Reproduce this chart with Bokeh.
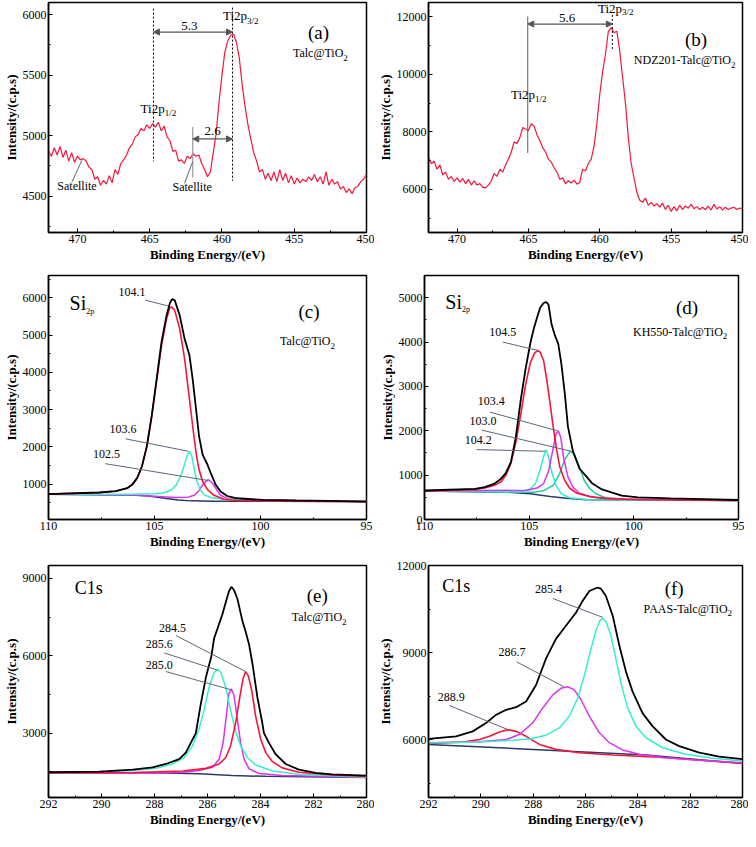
import numpy as np
from bokeh.plotting import figure
from bokeh.layouts import column, row
from bokeh.models import Range1d, SingleIntervalTicker, Arrow, NormalHead
from bokeh.core.properties import value
from bokeh.embed import file_html
from bokeh.resources import INLINE

FONT = "Liberation Serif"
AXFONT = "'Liberation Serif', serif"
RED = "#F5163C"
CYAN = "#35F0CC"
TEAL = "#1ECBA5"
MAG = "#DD33EE"
NAVY = "#2A3A6A"
LEADER = "#5A6878"
ARROWC = "#555555"

# ---------------- (a) Ti2p, Talc@TiO2 ----------------
a_energy = np.round(472.0 - 0.2 * np.arange(111), 1)
a_counts = [4870, 4830, 4900, 4840, 4910, 4820, 4880, 4790, 4860, 4780,
            4830, 4800, 4810, 4790, 4740, 4720, 4640, 4660, 4590, 4630,
            4600, 4670, 4610, 4720, 4680, 4770, 4800, 4840, 4900, 4930,
            4990, 5010, 5060, 5040, 5090, 5060, 5100, 5070, 5110, 5040,
            5080, 4990, 4960, 4870, 4880, 4790, 4800, 4770, 4830, 4810,
            4850, 4830, 4840, 4770, 4720, 4660, 4700, 4860, 5020, 5280,
            5500, 5690, 5780, 5830, 5840, 5770, 5640, 5420, 5240, 5090,
            4970, 4860, 4790, 4700, 4720, 4640, 4690, 4630, 4700, 4620,
            4720, 4630, 4690, 4610, 4670, 4600, 4650, 4610, 4640, 4620,
            4660, 4630, 4680, 4620, 4660, 4600, 4700, 4590, 4640, 4600,
            4620, 4560, 4580, 4530, 4560, 4520, 4570, 4580, 4620, 4640,
            4680]

# ---------------- (b) Ti2p, NDZ201-Talc@TiO2 ----------------
b_energy = np.round(472.0 - 0.2 * np.arange(111), 1)
b_counts = [7120, 6900, 6980, 6700, 6850, 6500, 6600, 6350, 6450, 6280,
            6400, 6250, 6380, 6200, 6350, 6150, 6300, 6150, 6200, 6080,
            6050, 6150, 6300, 6550, 6450, 6700, 6600, 6850, 7050, 7300,
            7650, 7600, 7800, 8150, 8100, 8050, 8280, 8200, 7900, 7700,
            7450, 7300, 7050, 6950, 6750, 6600, 6350, 6400, 6200, 6300,
            6220, 6320, 6180, 6250, 6700, 6650, 6900, 7050, 7500, 8300,
            9300, 10100, 10700, 11500, 11620, 11450, 11500, 10800, 9900, 9000,
            7800, 6900, 6400, 5900, 5620, 5550, 5700, 5450, 5550, 5420,
            5500, 5380, 5520, 5300, 5450, 5230, 5400, 5250, 5450, 5300,
            5420, 5350, 5480, 5330, 5400, 5300, 5380, 5300, 5420, 5280,
            5480, 5320, 5400, 5280, 5380, 5300, 5350, 5380, 5300, 5350,
            5310]

# ---------------- (c) Si2p, Talc@TiO2 ----------------
c_env_x = [110.0, 107.6, 106.83, 106.29, 106.06, 105.82, 105.59, 105.36, 105.13, 104.90,
           104.67, 104.43, 104.28, 104.17, 104.05, 103.81, 103.58, 103.35, 103.20, 103.04,
           102.90, 102.73, 102.50, 102.35, 102.11, 101.88, 101.57, 101.11, 99.87, 98.33,
           96.78, 95.0]
c_env_y = [730, 775, 810, 890, 980, 1160, 1480, 2020, 2830, 3820,
           4810, 5530, 5850, 5965, 5940, 5530, 4900, 4450, 3820, 3010,
           2290, 1790, 1520, 1300, 980, 800, 680, 620, 575, 560,
           550, 530]
c_p1041_x = [110.0, 107.6, 106.83, 106.29, 106.06, 105.82, 105.59, 105.36, 105.13, 104.90,
             104.67, 104.43, 104.28, 104.20, 104.05, 103.81, 103.58, 103.35, 103.20, 103.04,
             102.90, 102.73, 102.50, 102.19, 101.73, 101.11, 99.87, 95.0]
c_p1041_y = [730, 775, 810, 890, 980, 1160, 1480, 2020, 2830, 3775,
             4720, 5440, 5730, 5757, 5670, 5170, 4360, 3280, 2560, 1840,
             1390, 1070, 850, 700, 595, 560, 550, 530]
c_p1036_x = [110.0, 106.06, 104.97, 104.51, 104.20, 103.97, 103.77, 103.61, 103.47, 103.35,
             103.24, 103.12, 103.00, 102.84, 102.65, 102.35, 101.73, 99.87, 95.0]
c_p1036_y = [730, 730, 740, 775, 850, 980, 1210, 1480, 1750, 1880,
             1750, 1390, 1070, 850, 710, 640, 595, 560, 530]
c_p1025_x = [110.0, 106.06, 104.82, 104.05, 103.43, 103.12, 102.90, 102.69, 102.47, 102.27,
             102.07, 101.88, 101.57, 100.95, 95.0]
c_p1025_y = [730, 710, 665, 640, 650, 700, 830, 1010, 1120, 1030,
             850, 700, 610, 575, 530]
c_base_x = [110.0, 106.06, 105.28, 104.51, 103.89, 103.27, 102.19, 95.0]
c_base_y = [730, 710, 680, 620, 575, 550, 540, 530]

# ---------------- (d) Si2p, KH550-Talc@TiO2 ----------------
d_env_x = [110, 107.59, 107.12, 106.65, 106.34, 106.11, 105.87, 105.64, 105.40, 105.17,
           104.94, 104.78, 104.63, 104.47, 104.31, 104.19, 104.08, 103.93, 103.77, 103.61,
           103.46, 103.30, 103.15, 102.91, 102.60, 102.29, 101.98, 101.52, 100.58, 99.80,
           98.24, 96.68, 95.0]
d_env_y = [654, 690, 730, 810, 920, 1050, 1300, 1850, 2700, 3400,
           3985, 4300, 4540, 4780, 4880, 4900, 4850, 4400, 4150, 3960,
           3500, 2850, 2100, 1540, 1150, 985, 810, 677, 540, 500,
           477, 460, 440]
d_p1045_x = [110, 107.59, 107.12, 106.65, 106.34, 106.11, 105.87, 105.64, 105.40, 105.17,
             104.94, 104.75, 104.60, 104.47, 104.31, 104.16, 104.00, 103.85, 103.69, 103.54,
             103.30, 103.07, 102.76, 102.13, 101.36, 99.80, 95.0]
d_p1045_y = [640, 680, 710, 770, 850, 1000, 1270, 1730, 2380, 3040,
             3540, 3745, 3810, 3770, 3580, 3150, 2610, 2080, 1580, 1190,
             880, 710, 600, 520, 477, 445, 430]
d_p1042_x = [110, 105.40, 104.94, 104.70, 104.50, 104.31, 104.19, 104.08, 103.93, 103.72,
             103.46, 103.07, 102.13, 95.0]
d_p1042_y = [640, 630, 690, 810, 1080, 1420, 1580, 1420, 1080, 770,
             580, 490, 445, 430]
d_p1034_x = [110, 105.09, 104.63, 104.31, 104.08, 103.88, 103.72, 103.61, 103.49, 103.35,
             103.15, 102.91, 102.60, 101.98, 101.04, 95.0]
d_p1034_y = [640, 660, 710, 810, 1080, 1540, 1920, 2000, 1850, 1380,
             960, 730, 590, 500, 460, 430]
d_p1030_x = [110, 105.56, 104.78, 104.31, 103.85, 103.54, 103.30, 103.04, 102.83, 102.60,
             102.37, 102.13, 101.82, 101.36, 100.42, 95.0]
d_p1030_y = [640, 615, 615, 650, 770, 1040, 1350, 1540, 1460, 1190,
             880, 710, 580, 490, 455, 430]
d_base_x = [110, 106.11, 104.94, 104.00, 103.22, 102.29, 95.0]
d_base_y = [640, 615, 580, 520, 477, 445, 430]

# ---------------- (e) C1s, Talc@TiO2 ----------------
e_env_x = [292, 290.08, 288.82, 288.07, 287.57, 287.07, 286.82, 286.63, 286.44, 286.25,
           286.06, 285.85, 285.75, 285.62, 285.44, 285.31, 285.19, 285.10, 285.00, 284.87,
           284.69, 284.56, 284.43, 284.30, 284.12, 283.93, 283.87, 283.68, 283.43, 283.05,
           282.55, 281.92, 281.29, 280]
e_env_y = [1480, 1505, 1580, 1670, 1800, 1990, 2240, 2620, 3000, 4140,
           5160, 6000, 6680, 7060, 7600, 8075, 8500, 8670, 8550, 8200,
           7380, 6930, 6430, 5670, 4400, 3380, 3000, 2620, 2180, 1800,
           1580, 1455, 1400, 1350]
e_p2856_x = [292, 290.08, 288.82, 287.95, 287.32, 286.88, 286.57, 286.31, 286.13, 285.94,
             285.75, 285.62, 285.50, 285.31, 285.13, 284.94, 284.75, 284.49, 284.18, 283.55,
             282.55, 281.29, 280]
e_p2856_y = [1455, 1480, 1545, 1630, 1800, 2050, 2500, 3190, 3890, 4780,
             5350, 5475, 5350, 4780, 3890, 3070, 2500, 2050, 1760, 1530,
             1400, 1340, 1290]
e_p2850_x = [292, 288.82, 286.94, 286.31, 285.81, 285.56, 285.41, 285.28, 285.19, 285.10,
             285.00, 284.87, 284.75, 284.62, 284.43, 284.05, 283.18, 280]
e_p2850_y = [1455, 1440, 1480, 1545, 1670, 1990, 2620, 3760, 4530, 4715,
             4460, 3510, 2620, 1990, 1610, 1430, 1350, 1290]
e_p2845_x = [292, 288.82, 286.94, 286.06, 285.56, 285.31, 285.13, 284.94, 284.78, 284.66,
             284.56, 284.46, 284.33, 284.18, 283.99, 283.80, 283.55, 283.18, 282.55, 281.29,
             280]
e_p2845_y = [1455, 1470, 1530, 1630, 1800, 2050, 2500, 3380, 4400, 5100,
             5385, 5220, 4650, 3640, 2750, 2240, 1890, 1650, 1480, 1370,
             1320]
e_base_x = [292, 287.57, 286.31, 285.06, 283.80, 280]
e_base_y = [1480, 1455, 1420, 1350, 1320, 1280]

# ---------------- (f) C1s, PAAS-Talc@TiO2 ----------------
f_env_x = [292, 290.94, 290.31, 289.80, 289.42, 289.03, 288.65, 288.27, 287.89, 287.51,
           287.13, 286.74, 286.36, 286.11, 285.85, 285.54, 285.41, 285.22, 284.96, 284.71,
           284.45, 284.20, 283.82, 283.44, 282.93, 282.42, 281.65, 280.89, 280.0]
f_env_y = [6020, 6110, 6280, 6570, 6850, 7025, 7115, 7310, 7880, 8790,
           9470, 9930, 10380, 10780, 11120, 11240, 11200, 10950, 10270, 9250,
           8330, 7650, 6910, 6460, 6000, 5770, 5545, 5410, 5320]
f_p2854_x = [292, 290.05, 288.78, 288.14, 287.51, 287.00, 286.62, 286.30, 286.04, 285.79,
             285.60, 285.45, 285.34, 285.22, 285.03, 284.84, 284.64, 284.39, 284.07, 283.69,
             283.05, 282.16, 281.14, 280.0]
f_p2854_y = [5890, 5910, 5970, 6020, 6150, 6400, 6800, 7420, 8220, 9130,
             9760, 10100, 10180, 10065, 9590, 8790, 7935, 7080, 6460, 6060,
             5715, 5490, 5350, 5260]
f_p2867_x = [292, 290.05, 289.03, 288.53, 288.02, 287.64, 287.25, 286.94, 286.68, 286.43,
             286.17, 285.85, 285.47, 285.09, 284.58, 283.94, 283.05, 281.78, 280.0]
f_p2867_y = [5890, 5920, 6000, 6170, 6570, 7080, 7540, 7765, 7820, 7710,
             7370, 6800, 6230, 5890, 5640, 5490, 5380, 5290, 5200]
f_p2889_x = [292, 290.69, 290.05, 289.67, 289.29, 288.97, 288.65, 288.27, 287.76, 287.13,
             286.24, 284.96, 283.05, 280.0]
f_p2889_y = [5865, 5910, 6000, 6110, 6260, 6340, 6280, 6110, 5830, 5660,
             5545, 5465, 5380, 5180]
f_base_x = [292, 288.78, 286.24, 283.69, 280.0]
f_base_y = [5830, 5690, 5580, 5465, 5170]

X_LABEL = "Binding Energy/(eV)"
Y_LABEL = "Intensity/(c.p.s)"


def make_fig(xr, yr, xint, yint, left, fw, right, top, fh, bottom):
    p = figure(frame_width=fw, frame_height=fh,
               x_range=Range1d(*xr), y_range=Range1d(*yr),
               output_backend="svg", toolbar_location=None,
               min_border_left=left, min_border_right=right,
               min_border_top=top, min_border_bottom=bottom,
               background_fill_color="white", border_fill_color="white")
    p.xgrid.visible = False
    p.ygrid.visible = False
    p.outline_line_color = "black"
    p.outline_line_width = 1.5
    p.xaxis.ticker = SingleIntervalTicker(interval=xint, num_minor_ticks=2)
    p.yaxis.ticker = SingleIntervalTicker(interval=yint, num_minor_ticks=2)
    p.xaxis.axis_label = X_LABEL
    p.yaxis.axis_label = Y_LABEL
    for ax in (p.xaxis[0], p.yaxis[0]):
        ax.axis_line_color = "black"
        ax.axis_line_width = 1.5
        ax.major_tick_in = 4
        ax.major_tick_out = 0
        ax.minor_tick_in = 2
        ax.minor_tick_out = 0
        ax.major_tick_line_color = "black"
        ax.minor_tick_line_color = "black"
        ax.major_label_text_font = AXFONT
        ax.major_label_text_font_size = "12px"
        ax.major_label_text_color = "black"
        ax.major_label_standoff = 2
        ax.axis_label_text_font = AXFONT
        ax.axis_label_text_font_size = "13px"
        ax.axis_label_text_font_style = "bold"
        ax.axis_label_text_color = "black"
        ax.axis_label_standoff = 1
    return p


def txt(p, x, y, s, size, align="center"):
    p.text(x=[x], y=[y], text=[s], text_align=align, text_baseline="middle",
           text_font=value(FONT), text_font_size=f"{size}px", text_color="black")


def subtxt(p, x, y, ysub, main, sub, size, subsize):
    txt(p, x, y, main, size, align="right")
    txt(p, x, ysub, sub, subsize, align="left")


def leader(p, x0, y0, x1, y1):
    p.segment(x0=[x0], y0=[y0], x1=[x1], y1=[y1], line_color=LEADER, line_width=1)


def darrow(p, x0, x1, y):
    p.add_layout(Arrow(start=NormalHead(size=6, fill_color=ARROWC, line_color=ARROWC),
                       end=NormalHead(size=6, fill_color=ARROWC, line_color=ARROWC),
                       x_start=x0, y_start=y, x_end=x1, y_end=y,
                       line_color=ARROWC, line_width=1.2))


L = dict(left=44, fw=318, right=8)
R = dict(left=50, fw=314, right=6)
R1 = dict(top=2, fh=230, bottom=35)
R2 = dict(top=8, fh=244, bottom=34)
R3 = dict(top=12, fh=232, bottom=32)
NUM = 12   # size of peak position labels

# (a)
pa = make_fig((472, 450), (4200, 6100), 5, 500, **L, **R1)
pa.line(a_energy, a_counts, line_color=RED, line_width=1.2)
pa.segment(x0=[464.74, 459.27], y0=[6050, 6058], x1=[464.74, 459.27], y1=[4787, 4627],
           line_color="black", line_width=1, line_dash="2 2")
pa.segment(x0=[462.02], y0=[5072], x1=[462.02], y1=[4654], line_color="#999999", line_width=1.2)
darrow(pa, 464.74, 459.27, 5856)
darrow(pa, 462.02, 459.27, 4973)
txt(pa, 462.25, 5904, "5.3", 13)
txt(pa, 460.64, 5040, "2.6", 13)
subtxt(pa, 458.26, 5990, 5950, "Ti2p", "3/2", 13, 9)
subtxt(pa, 463.96, 5226, 5186, "Ti2p", "1/2", 13, 9)
leader(pa, 469.69, 4795, 470.37, 4620)
leader(pa, 462.02, 4787, 462.59, 4606)
txt(pa, 470.03, 4588, "Satellite", 12)
txt(pa, 462.06, 4580, "Satellite", 12)
txt(pa, 453.32, 5851, "(a)", 19)
subtxt(pa, 451.6, 5683, 5644, "Talc@TiO", "2", 12, 9)

# (b)
pb = make_fig((472, 450), (4500, 12500), 5, 2000, **R, **R1)
pb.line(b_energy, b_counts, line_color=RED, line_width=1.2)
pb.segment(x0=[465.05], y0=[12011], x1=[465.05], y1=[7265], line_color="#777777", line_width=1.2)
pb.segment(x0=[459.12], y0=[12068], x1=[459.12], y1=[10880], line_color="black", line_width=1,
           line_dash="2 2")
darrow(pb, 465.05, 459.12, 11751)
txt(pb, 462.28, 11955, "5.6", 13)
subtxt(pb, 458.44, 12300, 12165, "Ti2p", "3/2", 13, 9)
subtxt(pb, 464.53, 9300, 9130, "Ti2p", "1/2", 13, 9)
txt(pb, 453.26, 11220, "(b)", 19)
subtxt(pb, 450.81, 10486, 10340, "NDZ201-Talc@TiO", "2", 12, 9)

# (c)
pc = make_fig((110, 95), (50, 6600), 5, 1000, **L, **R2)
pc.line(c_base_x, c_base_y, line_color=NAVY, line_width=1.5)
pc.line(c_p1025_x, c_p1025_y, line_color=MAG, line_width=1.5)
pc.line(c_p1036_x, c_p1036_y, line_color=CYAN, line_width=1.5)
pc.line(c_p1041_x, c_p1041_y, line_color=RED, line_width=1.6)
pc.line(c_env_x, c_env_y, line_color="black", line_width=1.8)
subtxt(pc, 108.22, 5850, 5640, "Si", "2p", 20, 8)
txt(pc, 106.06, 6144, "104.1", NUM)
leader(pc, 105.44, 5937, 104.36, 5784)
txt(pc, 106.49, 2468, "103.6", NUM)
leader(pc, 106.37, 2216, 103.40, 1882)
txt(pc, 107.26, 1819, "102.5", NUM)
leader(pc, 107.32, 1549, 102.50, 1099)
txt(pc, 97.71, 5622, "(c)", 19)
subtxt(pc, 96.70, 4829, 4703, "Talc@TiO", "2", 12, 9)

# (d)
pd_ = make_fig((110, 95), (0, 5500), 5, 1000, **R, **R2)
pd_.line(d_base_x, d_base_y, line_color=NAVY, line_width=1.5)
pd_.line(d_p1030_x, d_p1030_y, line_color=TEAL, line_width=1.5)
pd_.line(d_p1042_x, d_p1042_y, line_color=CYAN, line_width=1.5)
pd_.line(d_p1034_x, d_p1034_y, line_color=MAG, line_width=1.5)
pd_.line(d_p1045_x, d_p1045_y, line_color=RED, line_width=1.6)
pd_.line(d_env_x, d_env_y, line_color="black", line_width=1.8)
subtxt(pd_, 108.21, 4910, 4740, "Si", "2p", 20, 8)
txt(pd_, 106.26, 4230, "104.5", NUM)
leader(pd_, 106.26, 3999, 104.55, 3807)
txt(pd_, 106.81, 2668, "103.4", NUM)
leader(pd_, 106.88, 2422, 103.66, 2000)
txt(pd_, 107.20, 2230, "103.0", NUM)
leader(pd_, 107.27, 2015, 102.99, 1538)
txt(pd_, 107.43, 1784, "104.2", NUM)
leader(pd_, 107.51, 1576, 104.24, 1538)
txt(pd_, 97.46, 4768, "(d)", 19)
subtxt(pd_, 95.75, 4230, 4130, "KH550-Talc@TiO", "2", 12, 9)

# (e)
pe = make_fig((292, 280), (500, 9500), 2, 3000, **L, **R3)
pe.line(e_base_x, e_base_y, line_color=NAVY, line_width=1.5)
pe.line(e_p2850_x, e_p2850_y, line_color=MAG, line_width=1.5)
pe.line(e_p2856_x, e_p2856_y, line_color=CYAN, line_width=1.5)
pe.line(e_p2845_x, e_p2845_y, line_color=RED, line_width=1.6)
pe.line(e_env_x, e_env_y, line_color="black", line_width=1.8)
txt(pe, 290.48, 8645, "C1s", 18)
txt(pe, 287.32, 7060, "284.5", NUM)
leader(pe, 287.19, 6781, 284.56, 5386)
txt(pe, 287.82, 6451, "285.6", NUM)
leader(pe, 287.63, 6109, 285.62, 5437)
txt(pe, 287.82, 5627, "285.0", NUM)
leader(pe, 287.57, 5386, 285.10, 4676)
txt(pe, 281.86, 8328, "(e)", 19)
subtxt(pe, 280.92, 7504, 7314, "Talc@TiO", "2", 12, 9)

# (f)
pf = make_fig((292, 280), (4000, 12000), 2, 3000, **R, **R3)
pf.line(f_base_x, f_base_y, line_color=NAVY, line_width=1.5)
pf.line(f_p2889_x, f_p2889_y, line_color=RED, line_width=1.6)
pf.line(f_p2867_x, f_p2867_y, line_color=MAG, line_width=1.5)
pf.line(f_p2854_x, f_p2854_y, line_color=CYAN, line_width=1.5)
pf.line(f_env_x, f_env_y, line_color="black", line_width=1.8)
txt(pf, 290.94, 11294, "C1s", 18)
txt(pf, 287.41, 11203, "285.4", NUM)
leader(pf, 287.25, 10862, 285.34, 10213)
txt(pf, 288.81, 9017, "286.7", NUM)
leader(pf, 288.63, 8676, 286.83, 7822)
txt(pf, 291.13, 7480, "288.9", NUM)
leader(pf, 291.2, 7173, 288.97, 6342)
txt(pf, 282.61, 11203, "(f)", 19)
subtxt(pf, 280.57, 10497, 10349, "PAAS-Talc@TiO", "2", 12, 9)

layout = column(row(pa, pb), row(pc, pd_), row(pe, pf))
open("out.html", "w").write(file_html(layout, INLINE))
